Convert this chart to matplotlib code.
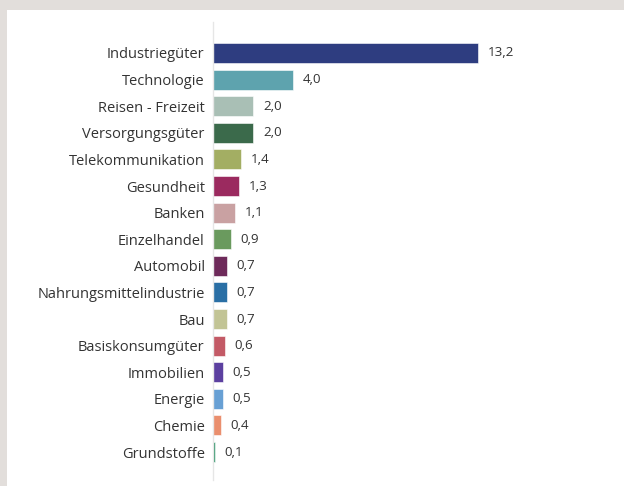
import matplotlib.pyplot as plt
from matplotlib.patches import Rectangle

plt.rcParams['font.family'] = ['Open Sans', 'DejaVu Sans']

sectors = ['Industriegüter', 'Technologie', 'Reisen - Freizeit', 'Versorgungsgüter',
           'Telekommunikation', 'Gesundheit', 'Banken', 'Einzelhandel', 'Automobil',
           'Nahrungsmittelindustrie', 'Bau', 'Basiskonsumgüter', 'Immobilien',
           'Energie', 'Chemie', 'Grundstoffe']
values = [13.2, 4.0, 2.0, 2.0, 1.4, 1.3, 1.1, 0.9, 0.7, 0.7, 0.7, 0.6, 0.5, 0.5, 0.4, 0.1]
colors = ['#2e3d80', '#5ea3ae', '#a9bfb5', '#3b6a4b', '#a3ae63', '#9b2a5f', '#c9a1a2',
          '#6a9a5e', '#6e2a5a', '#2a6fa5', '#c2c495', '#c35a66', '#5c40a0', '#68a0d4',
          '#ea8f6e', '#3a9a70']

fig = plt.figure(figsize=(6.24, 4.86), dpi=100, facecolor='#e2dedb')
# white panel
fig.patches.append(Rectangle((7 / 624, 0), 1, 476 / 486, transform=fig.transFigure,
                             facecolor='white', edgecolor='none', zorder=-1))

ax = fig.add_axes([213 / 624, 6 / 486, 400 / 624, 458 / 486])
ax.set_facecolor('none')
ax.set_zorder(2)

ypos = range(len(sectors))
ax.barh(ypos, values, height=0.75, color=colors, edgecolor='white', linewidth=0.4)
for y, v in zip(ypos, values):
    ax.annotate(f'{v:.1f}'.replace('.', ','), (v, y), xytext=(7, 0),
                textcoords='offset points', va='center', ha='left',
                fontsize=9.6, color='#333333')

ax.set_yticks(list(ypos))
ax.set_yticklabels(sectors, fontsize=10.5, color='#333333')
ax.tick_params(axis='y', length=0, pad=6)
ax.set_xticks([])
ax.set_xlim(0, 400 / 20.1)
ax.set_ylim(16.05, -1.165)
for s in ['top', 'right', 'bottom']:
    ax.spines[s].set_visible(False)
ax.spines['left'].set_color('#e6e6e6')
ax.spines['left'].set_linewidth(1)

fig.savefig('out.png', dpi=100, facecolor=fig.get_facecolor())
